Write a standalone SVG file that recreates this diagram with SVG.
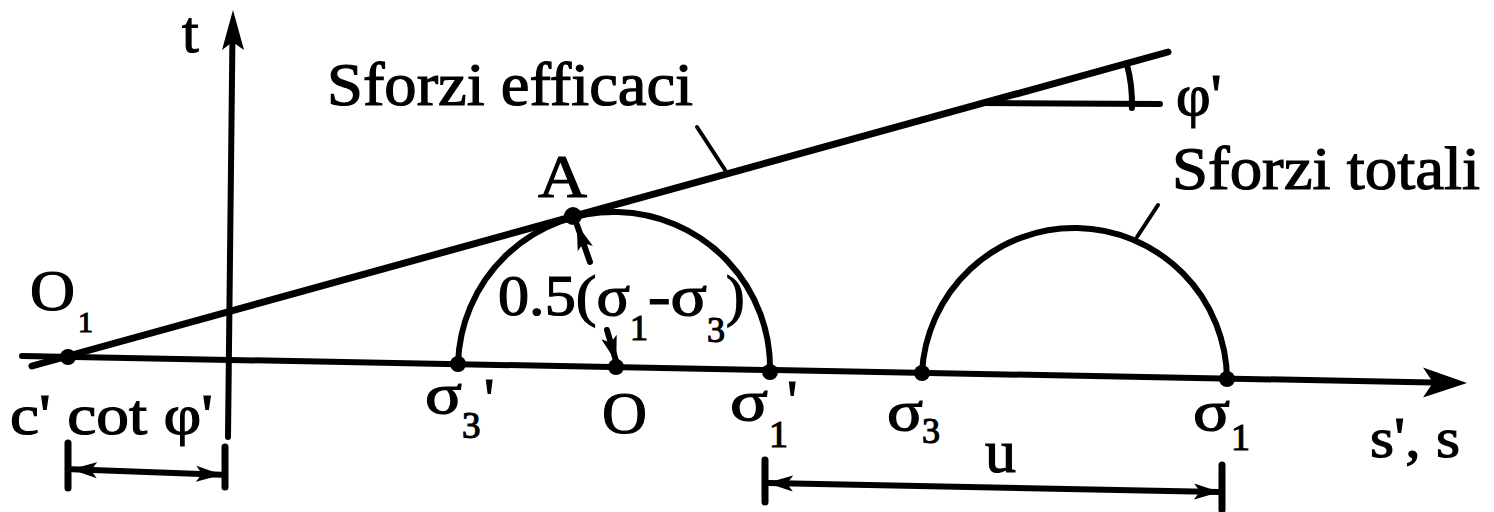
<svg xmlns="http://www.w3.org/2000/svg" width="1494" height="512" viewBox="0 0 1494 512">
<style>
.tx{font-family:'Liberation Serif','Times New Roman',serif;fill:#000;stroke:#000;stroke-width:1.2}
.ln{stroke:#000;fill:none;stroke-linecap:round}
.dot{fill:#000}
</style>
<defs>
<marker id="ah" markerUnits="userSpaceOnUse" markerWidth="28" markerHeight="20" refX="25" refY="10" orient="auto-start-reverse">
<path d="M0,2 L26,10 L0,18 L6,10 z" fill="#000"/>
</marker>
</defs>
<rect width="1494" height="512" fill="#fff"/>
<g id="axes">
<line class="ln" x1="22" y1="356" x2="1432" y2="382.4" stroke-width="6"/>
<path d="M1467,383 L1423,367.5 L1433,382.5 L1423,397.5 z" fill="#000"/>
<line class="ln" x1="228" y1="437" x2="232.4" y2="42" stroke-width="6"/>
<path d="M233,10 L244,50 L232.5,42 L222,50 z" fill="#000"/>
<text class="tx" x="182" y="52" font-size="60">t</text>
<text class="tx" x="1370" y="457" font-size="58" textLength="90" lengthAdjust="spacingAndGlyphs">s', s</text>
</g>
<g id="effective-line">
<line class="ln" x1="32" y1="366" x2="1168" y2="52" stroke-width="7"/>
<line class="ln" x1="983" y1="103" x2="1160" y2="104" stroke-width="6"/>
<path class="ln" d="M1126.6,63.3 A149 149 0 0 1 1131.9,108" stroke-width="6"/>
<text class="tx" x="1176" y="115" font-size="60">φ'</text>
</g>
<g id="connectors">
<line class="ln" x1="697" y1="127" x2="727" y2="173" stroke-width="4"/>
<line class="ln" x1="1158" y1="205" x2="1137" y2="237" stroke-width="4"/>
<line class="ln" x1="590" y1="262" x2="577" y2="225" stroke-width="6" marker-end="url(#ah)"/>
<line class="ln" x1="607" y1="330" x2="616" y2="361" stroke-width="6" marker-end="url(#ah)"/>
<line class="ln" x1="72" y1="469.2" x2="221" y2="474.8" stroke-width="6" marker-start="url(#ah)" marker-end="url(#ah)"/>
<line class="ln" x1="768" y1="483" x2="1219" y2="492" stroke-width="6" marker-start="url(#ah)" marker-end="url(#ah)"/>
</g>
<g id="dim-cot">
<line class="ln" x1="68" y1="443" x2="68" y2="488" stroke-width="7"/>
<line class="ln" x1="225" y1="447" x2="225" y2="487" stroke-width="7"/>
<text class="tx" x="10" y="434" font-size="58" textLength="203" lengthAdjust="spacingAndGlyphs">c' cot φ'</text>
</g>
<g id="dim-u">
<line class="ln" x1="765" y1="460" x2="765" y2="502" stroke-width="7"/>
<line class="ln" x1="1222" y1="465" x2="1222" y2="510" stroke-width="7"/>
<text class="tx" x="985" y="472" font-size="62">u</text>
</g>
<g id="circle-effective">
<path class="ln" d="M458,364 A156 156 0 0 1 770,372" stroke-width="6"/>
</g>
<g id="circle-total">
<path class="ln" d="M922,373 A152.6 152.6 0 0 1 1227,379" stroke-width="6"/>
</g>
<g id="node-O1">
<circle class="dot" cx="68" cy="357" r="8"/>
<text class="tx" x="30" y="310" font-size="56" textLength="45" lengthAdjust="spacingAndGlyphs">O</text>
<text class="tx" x="78" y="332" font-size="30">1</text>
</g>
<g id="node-A">
<circle class="dot" cx="573" cy="216" r="9"/>
<text class="tx" x="538" y="197" font-size="62" textLength="49" lengthAdjust="spacingAndGlyphs">A</text>
</g>
<g id="node-sigma3p">
<circle class="dot" cx="458" cy="364" r="8"/>
<text class="tx" x="425" y="413" font-size="58" textLength="37" lengthAdjust="spacingAndGlyphs">σ</text>
<text class="tx" x="462" y="438" font-size="37">3</text>
<text class="tx" x="484" y="418" font-size="58">'</text>
</g>
<g id="node-O">
<circle class="dot" cx="616" cy="367" r="8"/>
<text class="tx" x="602" y="433" font-size="60" textLength="45" lengthAdjust="spacingAndGlyphs">O</text>
</g>
<g id="node-sigma1p">
<circle class="dot" cx="770" cy="372" r="8"/>
<text class="tx" x="730" y="420" font-size="58" textLength="38" lengthAdjust="spacingAndGlyphs">σ</text>
<text class="tx" x="769" y="447" font-size="38">1</text>
<text class="tx" x="787" y="420" font-size="58">'</text>
</g>
<g id="node-sigma3">
<circle class="dot" cx="922" cy="373" r="8"/>
<text class="tx" x="887" y="430" font-size="58" textLength="36" lengthAdjust="spacingAndGlyphs">σ</text>
<text class="tx" x="922" y="443" font-size="36">3</text>
</g>
<g id="node-sigma1">
<circle class="dot" cx="1227" cy="379" r="8"/>
<text class="tx" x="1193" y="430" font-size="58" textLength="37" lengthAdjust="spacingAndGlyphs">σ</text>
<text class="tx" x="1231" y="450" font-size="38">1</text>
</g>
<g id="label-radius">
<text class="tx" x="498" y="315" font-size="56" textLength="132" lengthAdjust="spacingAndGlyphs">0.5(σ</text>
<text class="tx" x="630" y="340" font-size="36">1</text>
<text class="tx" x="648" y="315" font-size="56" textLength="59" lengthAdjust="spacingAndGlyphs">-σ</text>
<text class="tx" x="707" y="342" font-size="36">3</text>
<text class="tx" x="726" y="315" font-size="56">)</text>
</g>
<g id="label-efficaci">
<text class="tx" x="327" y="105" font-size="62" textLength="366" lengthAdjust="spacingAndGlyphs">Sforzi efficaci</text>
</g>
<g id="label-totali">
<text class="tx" x="1172" y="189" font-size="62" textLength="308" lengthAdjust="spacingAndGlyphs">Sforzi totali</text>
</g>
</svg>
